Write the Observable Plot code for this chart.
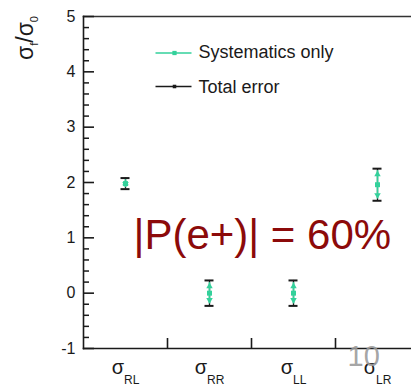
<!DOCTYPE html>
<html><head><meta charset="utf-8">
<script src="https://cdn.jsdelivr.net/npm/d3@7"></script>
<script src="https://cdn.jsdelivr.net/npm/@observablehq/plot@0.6"></script>
<style>
html,body{margin:0;padding:0;background:#fff;}
</style></head>
<body><div id="chart"></div>
<script>
// ---- data ----
const categories = ["RL", "RR", "LL", "LR"];
const values = [1.98, 0.0, 0.0, 1.96];
const totalError = [0.10, 0.23, 0.23, 0.29];
const systError = [0.07, 0.19, 0.19, 0.255];
const yTicks = [-1, 0, 1, 2, 3, 4, 5];
const seriesNames = ["Systematics only", "Total error"];
const annotation = "|P(e+)| = 60%";
const pageNumber = "10";

const green = "#33d19b";
const dark = "#1a1a1a";
const xRange = [83, 419];
const bandW = (xRange[1] - xRange[0]) / categories.length;
const minorTicks = d3.ticks(-1, 5, 30).filter(t => Math.abs(t - Math.round(t)) > 1e-6);

const data = categories.map((c, i) => ({cat: c, v: values[i], tot: totalError[i], sys: systError[i]}));

const hline = {draw(ctx) { ctx.moveTo(-18, 0); ctx.lineTo(18, 0); }};

const chart = Plot.plot({
  width: 411,
  height: 385,
  marginLeft: 83,
  marginRight: 0,
  marginTop: 16,
  marginBottom: 37,
  style: {fontFamily: "'Liberation Sans', Arial, sans-serif", fontSize: "16px", color: dark, background: "white"},
  x: {type: "band", domain: categories, range: xRange, padding: 0},
  y: {domain: [-1, 5]},
  marks: [
    Plot.frame({anchor: "top", stroke: "#333", strokeWidth: 1.6}),
    Plot.frame({anchor: "bottom", stroke: dark, strokeWidth: 1.6}),
    Plot.frame({anchor: "left", stroke: dark, strokeWidth: 1.6}),
    Plot.axisY({ticks: yTicks, tickSize: 0, tickPadding: 8, fontSize: 16, label: null, tickFormat: d => String(d)}),
    Plot.axisY({ticks: yTicks, tickSize: -11, fill: "none", label: null, stroke: dark, strokeWidth: 1.6}),
    Plot.axisY({ticks: minorTicks, tickSize: -6, fill: "none", label: null, stroke: dark, strokeWidth: 1.5}),
    Plot.axisX({ticks: categories.slice(1), tickSize: -10, fill: "none", label: null, dx: -bandW / 2, stroke: dark, strokeWidth: 1.6}),
    Plot.axisX({tickSize: 0, tickPadding: 25, label: null, fontSize: 17}),
    // total error bars
    Plot.ruleX(data, {x: "cat", y1: d => d.v - d.tot, y2: d => d.v + d.tot, stroke: dark, strokeWidth: 1.3}),
    Plot.tickY(data, {x: "cat", y: d => d.v + d.tot, insetLeft: (bandW - 9) / 2, insetRight: (bandW - 9) / 2, stroke: dark, strokeWidth: 2}),
    Plot.tickY(data, {x: "cat", y: d => d.v - d.tot, insetLeft: (bandW - 9) / 2, insetRight: (bandW - 9) / 2, stroke: dark, strokeWidth: 2}),
    // systematic error bars
    Plot.ruleX(data, {x: "cat", y1: d => d.v - d.sys, y2: d => d.v + d.sys, stroke: green, strokeWidth: 1.6}),
    Plot.dot(data, {x: "cat", y: d => d.v + d.sys, symbol: "triangle", r: 2.4, fill: green, dy: 3.7}),
    Plot.dot(data, {x: "cat", y: d => d.v - d.sys, symbol: "triangle", r: 2.4, fill: green, rotate: 180, dy: -3.7}),
    Plot.dot(data, {x: "cat", y: "v", symbol: "square", r: 2.8, fill: green}),
    // legend
    Plot.dot([0], {frameAnchor: "top-left", dx: 90, dy: 36.5, symbol: hline, stroke: green, fill: "none", strokeWidth: 1.6}),
    Plot.dot([0], {frameAnchor: "top-left", dx: 91, dy: 36.5, symbol: "square", r: 2.4, fill: green}),
    Plot.dot([0], {frameAnchor: "top-left", dx: 90, dy: 70, symbol: hline, stroke: dark, fill: "none", strokeWidth: 1.6}),
    Plot.dot([0], {frameAnchor: "top-left", dx: 91, dy: 70, symbol: "square", r: 2, fill: dark}),
    Plot.text([seriesNames[0]], {frameAnchor: "top-left", dx: 115, dy: 41.7, text: d => d, textAnchor: "start", lineAnchor: "bottom", fontSize: 18, fill: dark}),
    Plot.text([seriesNames[1]], {frameAnchor: "top-left", dx: 115, dy: 76.7, text: d => d, textAnchor: "start", lineAnchor: "bottom", fontSize: 18, fill: dark}),
    // annotations
    Plot.text([annotation], {frameAnchor: "top-left", dx: 50, dy: 232, text: d => d, textAnchor: "start", lineAnchor: "bottom", fontSize: 42, fill: "#8c0a0a"}),
    Plot.text([pageNumber], {frameAnchor: "top-left", dx: 264, dy: 349, text: d => d, textAnchor: "start", lineAnchor: "bottom", fontSize: 29, fill: "#9a9a9a", fillOpacity: 0.9})
  ]
});

const svg = d3.select(chart);
// x tick labels as sigma with subscripts
svg.selectAll('g[aria-label="x-axis tick label"] text').each(function() {
  const lab = this.textContent;
  const t = d3.select(this);
  t.text(null).attr("y", null).attr("dy", null);
  t.append("tspan").attr("font-size", 20).text("σ");
  t.append("tspan").attr("font-size", 12).attr("dy", 10).text(lab);
});
// y axis label σf/σ0
const yl = svg.append("text")
  .attr("transform", "translate(33,38) rotate(-90)")
  .attr("text-anchor", "middle")
  .attr("font-size", 23)
  .attr("fill", dark);
yl.append("tspan").text("σ");
yl.append("tspan").attr("font-size", 11).attr("dy", 5).text("f");
yl.append("tspan").attr("dy", -5).text("/σ");
yl.append("tspan").attr("font-size", 11).attr("dy", 5).text("0");

document.getElementById("chart").append(chart);
</script>
</body></html>
